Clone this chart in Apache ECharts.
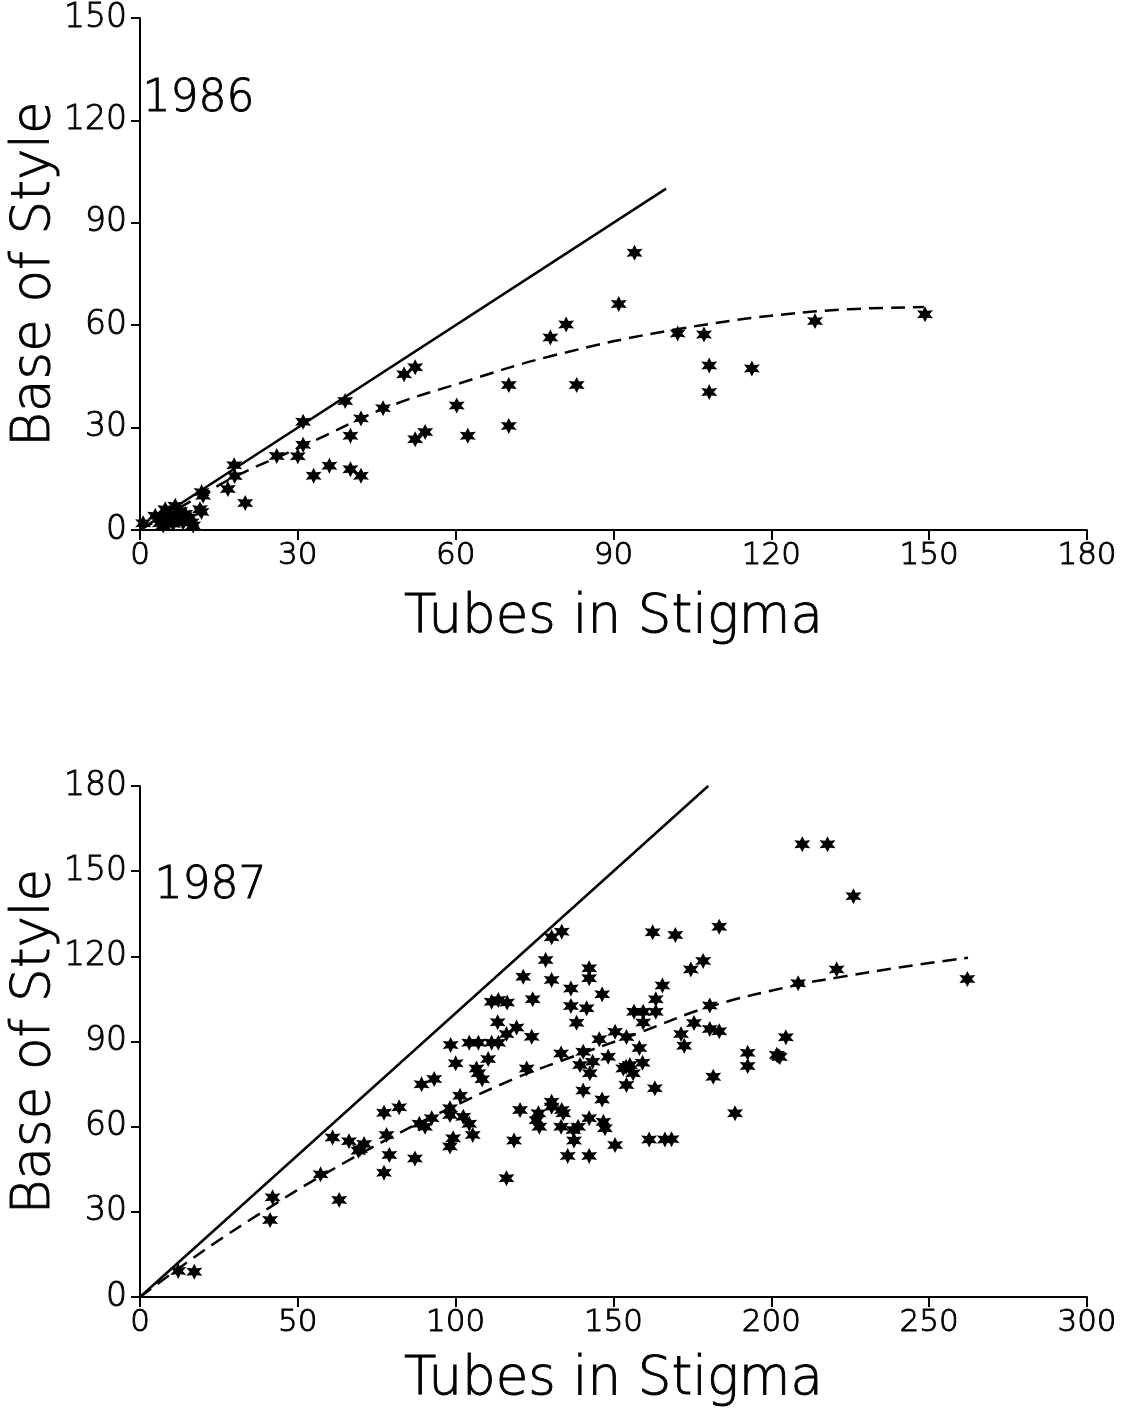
<!DOCTYPE html>
<html>
<head>
<meta charset="utf-8">
<script src="https://cdn.jsdelivr.net/npm/echarts@6/dist/echarts.min.js"></script>
<style>
  html, body { margin: 0; padding: 0; background: #fff; }
  #chart { width: 1132px; height: 1415px; }
</style>
</head>
<body>
<div id="chart"></div>
<script>
// values: [tubes in stigma, base of style]
const pts1986 = [
  [0.6, 2.0], [2.9, 4.2], [4.1, 3.2], [3.8, 2.0], [4.4, 1.3], [4.8, 6.1], [5.4, 4.7], [5.7, 2.7],
  [6.3, 1.8], [6.7, 7.1], [7.0, 4.2], [7.6, 5.6], [8.2, 2.2], [8.6, 4.7], [9.5, 3.7], [9.8, 2.2],
  [10.1, 1.3], [11.4, 6.1], [11.7, 5.3], [11.7, 11.1], [12, 10],
  [16.7, 12], [20, 7.9], [17.9, 19], [18, 15.8], [26, 21.7], [30, 21.6], [31, 25], [31, 31.7],
  [33, 15.9], [36, 18.8], [39, 37.8], [40, 27.6], [40, 17.8], [42, 15.9], [42, 32.7], [46.2, 35.7],
  [50.2, 45.6], [52.3, 47.7], [52.3, 26.6], [54.2, 28.7], [60.2, 36.5], [62.3, 27.6],
  [70.1, 42.5], [70.1, 30.5], [78, 56.4], [81, 60.2], [83, 42.5], [91, 66.2], [94, 81.2],
  [102.2, 57.6], [107.2, 57.3], [108.2, 48.2], [108.2, 40.4], [116.3, 47.3], [128.3, 61.2], [149.2, 63.2]
];
const line1986 = [[0, 0], [100, 100]];
const curve1986 = [
  [0, 0], [10, 8.7], [18.4, 15.9], [31, 24.6], [46.9, 35.9], [60.8, 43],
  [78, 50.9], [102, 58.8], [128, 64], [149, 65.3]
];

const pts1987 = [
  [12.1, 9.2], [17.2, 8.9], [41.2, 27.1], [42, 35.1], [57.2, 43.2], [63.1, 34.2], [61, 56.2],
  [66.2, 54.9], [69.7, 52.1], [71, 53.9], [69.2, 51.5], [77.3, 64.9], [82.1, 66.8], [78.1, 57.1],
  [79, 50], [77.3, 43.8], [87.1, 48.8],
  [89.2, 74.9], [93.2, 76.8], [98.4, 88.8], [100, 82.3], [101.4, 70.9], [98.2, 66.5], [98.2, 64.1],
  [88.5, 61], [90.3, 60], [92.4, 63], [102.4, 63.5], [104.3, 61], [105.4, 57.1], [99.2, 55.9],
  [98.2, 53], [104.3, 89.6], [107.2, 89.6], [111.4, 89.6], [113.5, 89.6], [106.6, 80.5],
  [107.2, 78.8], [108.4, 76.7], [110.3, 83.8], [113.3, 96.8], [116.1, 92.6], [119.3, 94.9],
  [124.1, 91.7], [111.4, 104], [113.5, 104.6], [116.3, 103.7], [124.4, 104.9], [121.4, 112.8],
  [128.5, 118.7], [130.4, 111.7], [130.4, 126.7], [133.6, 128.7], [142.3, 115.8], [142.3, 112.3],
  [136.5, 108.7], [136.5, 102.5], [141.5, 101.7], [138.3, 96.6], [146.4, 106.6], [122.5, 80.5],
  [133.4, 85.8], [140.4, 86.4], [139.4, 81.7], [143.4, 82.9], [142.5, 78.8], [148.3, 84.6],
  [150.5, 93.4], [145.5, 90.8], [140.4, 72.7], [146.4, 69.6], [154, 81.1], [154.1, 74.7],
  [120.4, 65.9], [130.4, 68.8], [130.4, 67], [126.2, 64.7], [125.6, 62.3], [126.5, 60],
  [133.6, 65.9], [134.1, 64.7], [133.4, 60], [137.3, 58.8], [138.8, 60], [137.5, 55.1],
  [142.3, 63], [146.8, 61.7], [147.3, 59.4], [118.5, 55.1], [150.5, 53.5], [116.1, 41.8],
  [135.5, 49.7], [142.3, 49.7], [163.1, 73.5], [161.3, 55.5], [166.3, 55.5], [168.4, 55.6],
  [153.1, 80.5], [155.2, 81.7], [156.2, 78.8], [159.2, 82.5], [181.6, 77.6], [192.5, 86],
  [192.5, 81.4], [202.2, 84.9], [188.5, 64.7],
  [209.8, 159.5], [217.8, 159.5], [226, 141.2], [262.1, 112], [220.7, 115.4], [208.5, 110.5],
  [183.5, 130.4], [162.4, 128.5], [169.6, 127.5], [178.4, 118.4], [174.5, 115.4], [165.5, 109.7],
  [163.4, 104.9], [163.4, 100.5], [156.5, 100.5], [159.4, 100.5], [159.4, 96.7], [154.1, 91.6],
  [171.4, 92.6], [172.4, 88.5], [175.5, 96.5], [180.5, 102.7], [180.5, 94.4], [183.5, 93.6],
  [204.6, 91.5], [201.7, 85.3], [202.7, 84.5], [158.2, 87.7]
];
const line1987 = [[0, 0], [180, 180]];
const curve1987 = [
  [0, 0], [20, 16.2], [41, 31.5], [57.2, 42.5], [80, 56.5], [100, 67.5], [118.2, 76.7],
  [133, 83], [158, 93], [180.5, 102.3], [208.4, 110], [220.8, 112.5], [240, 116], [262.3, 119.5]
];

const xTicks1986 = { min: 0, max: 180, interval: 30 };
const yTicks1986 = { min: 0, max: 150, interval: 30 };
const xTicks1987 = { min: 0, max: 300, interval: 50 };
const yTicks1987 = { min: 0, max: 180, interval: 30 };

const FONT = '"DejaVu Sans", sans-serif';
const WEIGHT = 200;
const STAR = 'path://M10 0 L12.5 5.67 L18.66 5 L15 10 L18.66 15 L12.5 14.33 L10 20 L7.5 14.33 L1.34 15 L5 10 L1.34 5 L7.5 5.67 Z';

// thin font, thickened a touch with a text border
function txt(size){
  return { fontFamily: FONT, fontSize: size, fontWeight: WEIGHT, color: '#000',
    textBorderColor: '#000', textBorderWidth: 0.9 };
}

function xAxis(idx, ticks, gap){
  return {
    type: 'value', gridIndex: idx, min: ticks.min, max: ticks.max, interval: ticks.interval,
    name: 'Tubes in Stigma', nameLocation: 'middle', nameGap: gap,
    nameTextStyle: txt(53),
    axisLine: { show: true, onZero: false, lineStyle: { color: '#000', width: 2 } },
    axisTick: { show: true, inside: false, length: 10, lineStyle: { color: '#000', width: 2 } },
    axisLabel: Object.assign(txt(31), { margin: 10 }),
    splitLine: { show: false }
  };
}
function yAxis(idx, ticks){
  return {
    type: 'value', gridIndex: idx, min: ticks.min, max: ticks.max, interval: ticks.interval,
    name: 'Base of Style', nameLocation: 'middle', nameGap: 78, nameRotate: 90,
    nameMoveOverlap: false,
    nameTextStyle: txt(53),
    axisLine: { show: true, onZero: false, lineStyle: { color: '#000', width: 2 } },
    axisTick: { show: true, inside: false, length: 9, lineStyle: { color: '#000', width: 2 } },
    axisLabel: Object.assign(txt(33), { margin: 13 }),
    splitLine: { show: false }
  };
}
function stars(idx, data){
  return { type: 'scatter', xAxisIndex: idx, yAxisIndex: idx, data: data,
    symbol: STAR, symbolSize: 16, itemStyle: { color: '#000', opacity: 1 }, z: 3 };
}
function line(idx, data, dashed){
  return { type: 'line', xAxisIndex: idx, yAxisIndex: idx, data: data,
    showSymbol: false, smooth: dashed ? 0.4 : false, z: 2,
    lineStyle: { color: '#000', width: 2.5, type: dashed ? [14, 8] : 'solid' } };
}

const chart = echarts.init(document.getElementById('chart'), null, { renderer: 'canvas' });
chart.setOption({
  animation: false,
  backgroundColor: '#fff',
  grid: [
    { left: 140, top: 18, width: 947, height: 512, containLabel: false, outerBoundsMode: 'none' },
    { left: 140, top: 786, width: 947, height: 511, containLabel: false, outerBoundsMode: 'none' }
  ],
  xAxis: [xAxis(0, xTicks1986, 62), xAxis(1, xTicks1987, 57)],
  yAxis: [yAxis(0, yTicks1986), yAxis(1, yTicks1987)],
  graphic: [
    { type: 'text', left: 142, top: 77, style: Object.assign({ text: '1986', fill: '#000', stroke: '#000', lineWidth: 0.9 },
      { fontFamily: FONT, fontSize: 44, fontWeight: WEIGHT }) },
    { type: 'text', left: 154, top: 864, style: Object.assign({ text: '1987', fill: '#000', stroke: '#000', lineWidth: 0.9 },
      { fontFamily: FONT, fontSize: 44, fontWeight: WEIGHT }) }
  ],
  series: [
    line(0, line1986, false), line(0, curve1986, true), stars(0, pts1986),
    line(1, line1987, false), line(1, curve1987, true), stars(1, pts1987)
  ]
});
window.addEventListener('resize', () => chart.resize());
</script>
</body>
</html>
